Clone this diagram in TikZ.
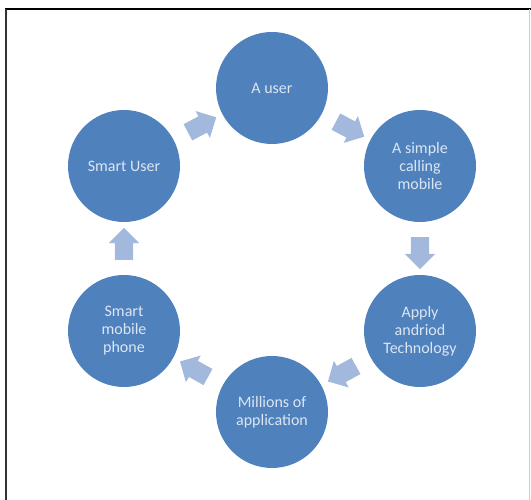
\documentclass[tikz,border=0pt]{standalone}
\usepackage{fontspec}
\setmainfont{Carlito}
\usetikzlibrary{calc,shapes.arrows}
\definecolor{cycleblue}{HTML}{4F81BD}
\definecolor{arrowblue}{HTML}{A2B8DC}
\definecolor{textblue}{HTML}{DCE6F2}

\begin{document}
\begin{tikzpicture}[x=1pt,y=1pt,
 stage/.style={circle,fill=cycleblue,minimum size=112pt,inner sep=0pt,text=textblue,align=center,font=\fontsize{16}{18}\selectfont},
 cyclearr/.style={single arrow,fill=arrowblue,minimum height=32pt,minimum width=30pt,inner sep=9pt,single arrow head extend=6pt}]
\useasboundingbox (0,0) rectangle (531,500);
\fill[white] (0,0) rectangle (531,500);
\draw[black,line width=2.5pt] (5,491) -- (531,491);
\draw[black!80,line width=1.5pt] (6,491) -- (6,0);
\draw[black!20,line width=1pt] (529,491) -- (529,0);
\node[stage] (user) at (272,412) {A user};
\node[stage] (simple) at (420,334) {A simple\\calling\\mobile};
\node[stage] (apply) at (420,169) {Apply\\andriod\\Technology};
\node[stage] (mill) at (272,88) {Millions of\\application};
\node[stage] (phone) at (124,169) {Smart\\mobile\\phone};
\node[stage] (suser) at (124,334) {Smart User};
\node[cyclearr,rotate=-28] (a1) at ($(user)!.5!(simple)$) {};
\node[cyclearr,rotate=-90] (a2) at ($(simple)!.5!(apply)$) {};
\node[cyclearr,rotate=209] (a3) at ($(apply)!.5!(mill)$) {};
\node[cyclearr,rotate=151] (a4) at ($(mill)!.5!(phone)$) {};
\node[cyclearr,rotate=90] (a5) at ($(phone)!.5!(suser)$) {};
\node[cyclearr,rotate=28] (a6) at ($(suser)!.5!(user)$) {};
\end{tikzpicture}
\end{document}
